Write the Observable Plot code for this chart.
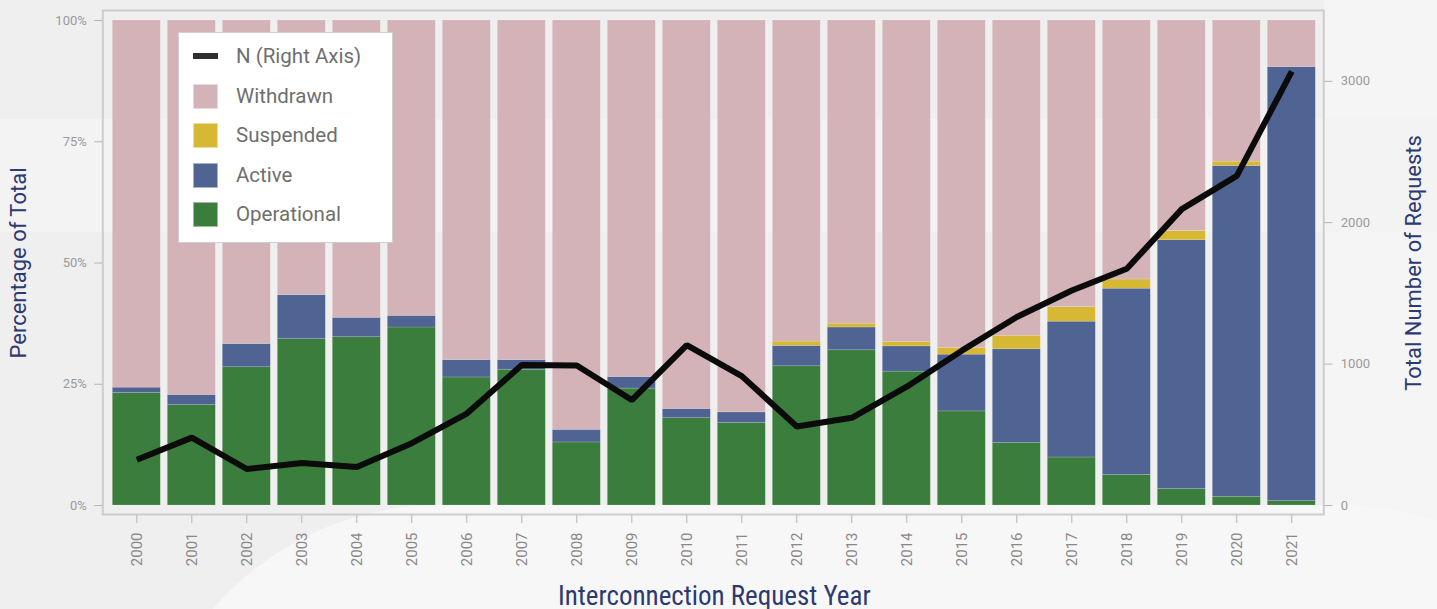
<!DOCTYPE html>
<html>
<head>
<meta charset="utf-8">
<script src="https://cdn.jsdelivr.net/npm/d3@7"></script>
<script src="https://cdn.jsdelivr.net/npm/@observablehq/plot@0.6"></script>
<style>
  html, body { margin: 0; padding: 0; }
  body { width: 1437px; height: 609px; position: relative; overflow: hidden; background: #f0efef; font-family: Roboto, sans-serif; }
  .bg-band { position: absolute; left: 0; top: 119px; width: 1437px; height: 113px; background: #f4f3f3; }
  .bg-right { position: absolute; left: 1324px; top: 0; width: 113px; height: 609px; background: #f6f5f5; }
  .bg-circle { position: absolute; left: 140px; top: 505px; width: 1500px; height: 600px; border-radius: 300px; background: #f8f7f7; }
  #chart { position: absolute; left: 0; top: 0; }
  .legend { position: absolute; left: 178px; top: 32px; width: 213px; height: 209px; background: #ffffff; border: 1px solid #cfcfcf; }
  .legend .row { position: absolute; left: 14px; height: 26px; display: flex; align-items: center; }
  .legend .sw { width: 25px; height: 25px; box-sizing: border-box; border: 1px solid rgba(255,255,255,0.5); }
  .legend .ln { width: 25px; height: 6px; background: #2e2e2e; }
  .legend .lab { margin-left: 18px; font-size: 20.5px; color: #6f6f6f; font-family: Roboto, sans-serif; white-space: nowrap; }
</style>
</head>
<body>
<div class="bg-right"></div>
<div class="bg-band"></div>
<div class="bg-circle"></div>
<div id="chart"></div>
<div class="legend" id="legend"></div>
<script>
// ---- data ----
const years = [2000, 2001, 2002, 2003, 2004, 2005, 2006, 2007, 2008, 2009, 2010,
               2011, 2012, 2013, 2014, 2015, 2016, 2017, 2018, 2019, 2020, 2021];
const operational = [23.2, 20.7, 28.5, 34.3, 34.7, 36.7, 26.4, 28.0, 13.0, 24.1, 18.0,
                     17.0, 28.7, 32.0, 27.6, 19.4, 12.9, 9.9, 6.3, 3.4, 1.8, 0.9];
const active      = [1.1, 2.1, 4.8, 9.1, 4.0, 2.4, 3.6, 2.0, 2.6, 2.4, 1.9,
                     2.2, 4.2, 4.7, 5.2, 11.7, 19.3, 28.0, 38.4, 51.3, 68.2, 89.5];
const suspended   = [0, 0, 0, 0, 0, 0, 0, 0, 0, 0, 0,
                     0, 0.9, 0.8, 0.9, 1.4, 2.8, 3.0, 1.9, 1.9, 0.9, 0];
const withdrawn   = [75.7, 77.2, 66.7, 56.6, 61.3, 60.9, 70.0, 70.0, 84.4, 73.5, 80.1,
                     80.8, 66.2, 62.5, 66.3, 67.5, 65.0, 59.1, 53.4, 43.4, 29.1, 9.6];
const totalN      = [324, 480, 258, 300, 272, 441, 650, 993, 990, 746, 1134,
                     915, 559, 620, 840, 1095, 1333, 1521, 1674, 2096, 2331, 3070];
const statuses = ["Operational", "Active", "Suspended", "Withdrawn"];
const statusColors = ["#3b7d3d", "#506494", "#d6b835", "#d3b3b7"];
const pctTicks = [0, 25, 50, 75, 100];
const nTicks = [0, 1000, 2000, 3000];
const legendItems = ["Withdrawn", "Suspended", "Active", "Operational"];
const NMAX = 3430; // right axis top

const series = [operational, active, suspended, withdrawn];
const rows = years.flatMap((yr, i) => statuses.map((s, j) => ({year: String(yr), status: s, value: series[j][i]})));
const lineData = years.map((yr, i) => ({year: String(yr), n: totalN[i]}));
const toPct = n => n / NMAX * 100;

const chart = Plot.plot({
  width: 1437,
  height: 609,
  marginLeft: 112.3,
  marginRight: 121.7,
  marginTop: 20,
  marginBottom: 104,
  style: {background: "transparent", fontFamily: "Roboto, sans-serif", overflow: "visible"},
  x: {type: "band", domain: years.map(String), paddingInner: 0.127, paddingOuter: 0, align: 0.5, round: false},
  y: {domain: [0, 100]},
  color: {domain: statuses, range: statusColors},
  marks: [
    Plot.frame({stroke: "#cdcdcd", strokeWidth: 2, insetLeft: -10, insetRight: -8, insetTop: -10, insetBottom: -9}),
    Plot.barY(rows, {x: "year", y: "value", fill: "status", order: statuses,
      stroke: "#ffffff", strokeOpacity: 0.25, strokeWidth: 0.6}),
    Plot.line(lineData, {x: "year", y: d => toPct(d.n), stroke: "#0b0b0b", strokeWidth: 6,
      strokeLinejoin: "miter", strokeLinecap: "butt"}),
    Plot.axisY(pctTicks, {anchor: "left", tickFormat: d => d + "%", dx: -10, tickSize: 8, tickPadding: 8,
      fontSize: 13, fill: "#9a9a9a", stroke: "#b5b5b5", label: null}),
    Plot.axisY(nTicks.map(toPct), {anchor: "right", tickFormat: d => String(Math.round(d * NMAX / 100)),
      dx: 8, tickSize: 8, tickPadding: 9, fontSize: 13, fill: "#9a9a9a", stroke: "#b5b5b5", label: null}),
    Plot.axisX({anchor: "bottom", tickRotate: -90, dy: 10, tickSize: 8, tickPadding: 9,
      fontSize: 15, fill: "#888888", stroke: "#b5b5b5", label: null}),
    Plot.text(["Percentage of Total"], {text: d => d, frameAnchor: "left", textAnchor: "middle", dx: -94, rotate: -90,
      fontSize: 22, fill: "#2b3a70"}),
    Plot.text(["Total Number of Requests"], {text: d => d, frameAnchor: "right", textAnchor: "middle", dx: 98, rotate: -90,
      fontSize: 22, fill: "#2b3a70"}),
    Plot.text(["Interconnection Request Year"], {text: d => d, frameAnchor: "bottom", textAnchor: "middle", dy: 99,
      fontSize: 27, fill: "#2b3a70", fontFamily: "'Roboto Condensed', 'Liberation Sans Narrow', 'DejaVu Sans Condensed', Roboto, sans-serif"})
  ]
});
document.getElementById("chart").appendChild(chart);

// ---- legend ----
const legend = document.getElementById("legend");
const rowTops = [10, 50, 89, 129, 168];
const items = [{label: "N (Right Axis)", line: true}].concat(
  legendItems.map(s => ({label: s, color: statusColors[statuses.indexOf(s)]})));
items.forEach((it, i) => {
  const row = document.createElement("div");
  row.className = "row";
  row.style.top = rowTops[i] + "px";
  const sw = document.createElement("div");
  if (it.line) { sw.className = "ln"; } else { sw.className = "sw"; sw.style.background = it.color; }
  const lab = document.createElement("span");
  lab.className = "lab";
  lab.textContent = it.label;
  row.appendChild(sw);
  row.appendChild(lab);
  legend.appendChild(row);
});
</script>
</body>
</html>
